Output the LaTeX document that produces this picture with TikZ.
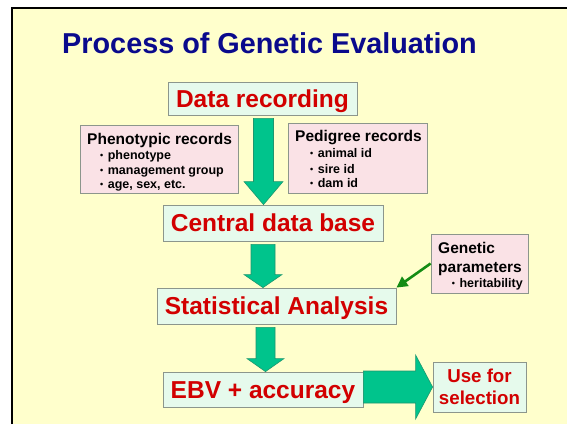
\documentclass[tikz,border=0pt]{standalone}
\usepackage{fontspec}
\setmainfont{Liberation Sans}
\usetikzlibrary{arrows.meta,calc}

\definecolor{pagebg}{RGB}{255,255,204}
\definecolor{titleblue}{RGB}{10,10,140}
\definecolor{redtxt}{RGB}{210,0,0}
\definecolor{mintfill}{RGB}{230,250,236}
\definecolor{pinkfill}{RGB}{250,226,230}
\definecolor{boxline}{RGB}{140,150,140}
\definecolor{arrowfill}{RGB}{0,196,140}
\definecolor{arrowedge}{RGB}{30,150,110}
\definecolor{paramgreen}{RGB}{20,140,20}

% small list bullet
\newcommand\itembullet{{\fontsize{9}{9}\selectfont\raisebox{0.5pt}{•}}\hspace{4.5pt}}

% vertical block arrow: #1 upper node, #2 lower node, #3 centre x,
% #4 shaft half width, #5 head half width, #6 head length
\newcommand\blockdown[6]{%
  \draw[blockarrow] let \p1=(#1.south), \p2=(#2.north) in
    (#3pt-#4pt,\y1-3pt) -- (#3pt+#4pt,\y1-3pt) -- (#3pt+#4pt,\y2+#6pt)
    -- (#3pt+#5pt,\y2+#6pt) -- (#3pt,\y2) -- (#3pt-#5pt,\y2+#6pt)
    -- (#3pt-#4pt,\y2+#6pt) -- cycle;}

\begin{document}
\begin{tikzpicture}[x=1pt,y=-1pt,
  mainbox/.style={draw=boxline, line width=0.8pt, fill=mintfill, text=redtxt,
    font=\fontsize{24.5}{28}\selectfont\bfseries, inner sep=0pt,
    text height=17.5pt, text depth=0pt},
  usebox/.style={draw=boxline, line width=0.8pt, fill=mintfill, text=redtxt,
    font=\fontsize{18.7}{22}\selectfont\bfseries, inner sep=0pt, align=center},
  notebox/.style={draw=boxline, line width=0.8pt, fill=pinkfill, inner sep=0pt},
  notehead/.style={font=\fontsize{15.5}{18}\selectfont\bfseries, inner sep=0pt, anchor=base west},
  noteitem/.style={font=\fontsize{12.5}{15}\selectfont\bfseries, inner sep=0pt, anchor=base west},
  blockarrow/.style={fill=arrowfill, draw=arrowedge, line width=0.6pt, line join=miter}
]
\useasboundingbox (0,0) rectangle (567,424);
\fill[white] (0,0) rectangle (567,424);
\fill[pagebg] (12,8) rectangle (567,424);
\draw[line width=2.2pt] (12,424) -- (12,8) -- (567,8);

% title
\node[font=\fontsize{28.8}{32}\selectfont\bfseries, text=titleblue, anchor=base, inner sep=0pt]
  (title) at (269.5,53) {Process of Genetic Evaluation};

% main flow
\node[mainbox, minimum width=189, minimum height=33] (data) at (262.5,98.5) {Data recording};
\node[mainbox, minimum width=220, minimum height=36] (central) at (273,223) {Central data base};
\node[mainbox, minimum width=239, minimum height=36] (stat) at (276.5,306) {Statistical Analysis};
\node[mainbox, minimum width=200, minimum height=35] (ebv) at (263,389.5) {EBV + accuracy};
\node[usebox, minimum width=93, minimum height=50] (use) at (479.5,387) {Use for\\selection};

% side notes
\node[notebox, minimum width=158, minimum height=68] (pheno) at (159,159) {};
\node[notehead] (phenohead) at (87,144) {Phenotypic records};
\node[noteitem] (phenoa) at (100,159) {\itembullet phenotype};
\node[noteitem] (phenob) at (100,174) {\itembullet management group};
\node[noteitem] (phenoc) at (100,188) {\itembullet age, sex, etc.};

\node[notebox, minimum width=139, minimum height=70] (ped) at (357.5,158) {};
\node[notehead] (pedhead) at (295,141) {Pedigree records};
\node[noteitem] (peda) at (310,157) {\itembullet animal id};
\node[noteitem] (pedb) at (310,173) {\itembullet sire id};
\node[noteitem] (pedc) at (310,187) {\itembullet dam id};

\node[notebox, minimum width=97, minimum height=59] (gen) at (479.5,263.5) {};
\node[notehead] (genhead) at (438,253) {Genetic};
\node[notehead] (genhead2) at (438,272) {parameters};
\node[noteitem, anchor=base east] (gena) at (523,287) {\itembullet heritability};

% block arrows
\blockdown{data}{central}{263.5}{10}{19.5}{23}
\blockdown{central}{stat}{263}{12}{19}{13}
\blockdown{stat}{ebv}{265.5}{9.5}{18.5}{13}
\draw[blockarrow] let \p1=(ebv.east), \p2=(use.west) in
  (\x1,\y2+16pt) -- (\x2-17pt,\y2+16pt) -- (\x2-17pt,\y2+32pt) -- (\x2,\y2)
  -- (\x2-17pt,\y2-32pt) -- (\x2-17pt,\y2-16pt) -- (\x1,\y2-16pt) -- cycle;

% parameters feed the analysis
\draw[paramgreen, line width=2.6pt, -{Triangle[length=11pt,width=11pt]}] (gen.west) -- (stat.north east);
\end{tikzpicture}
\end{document}
